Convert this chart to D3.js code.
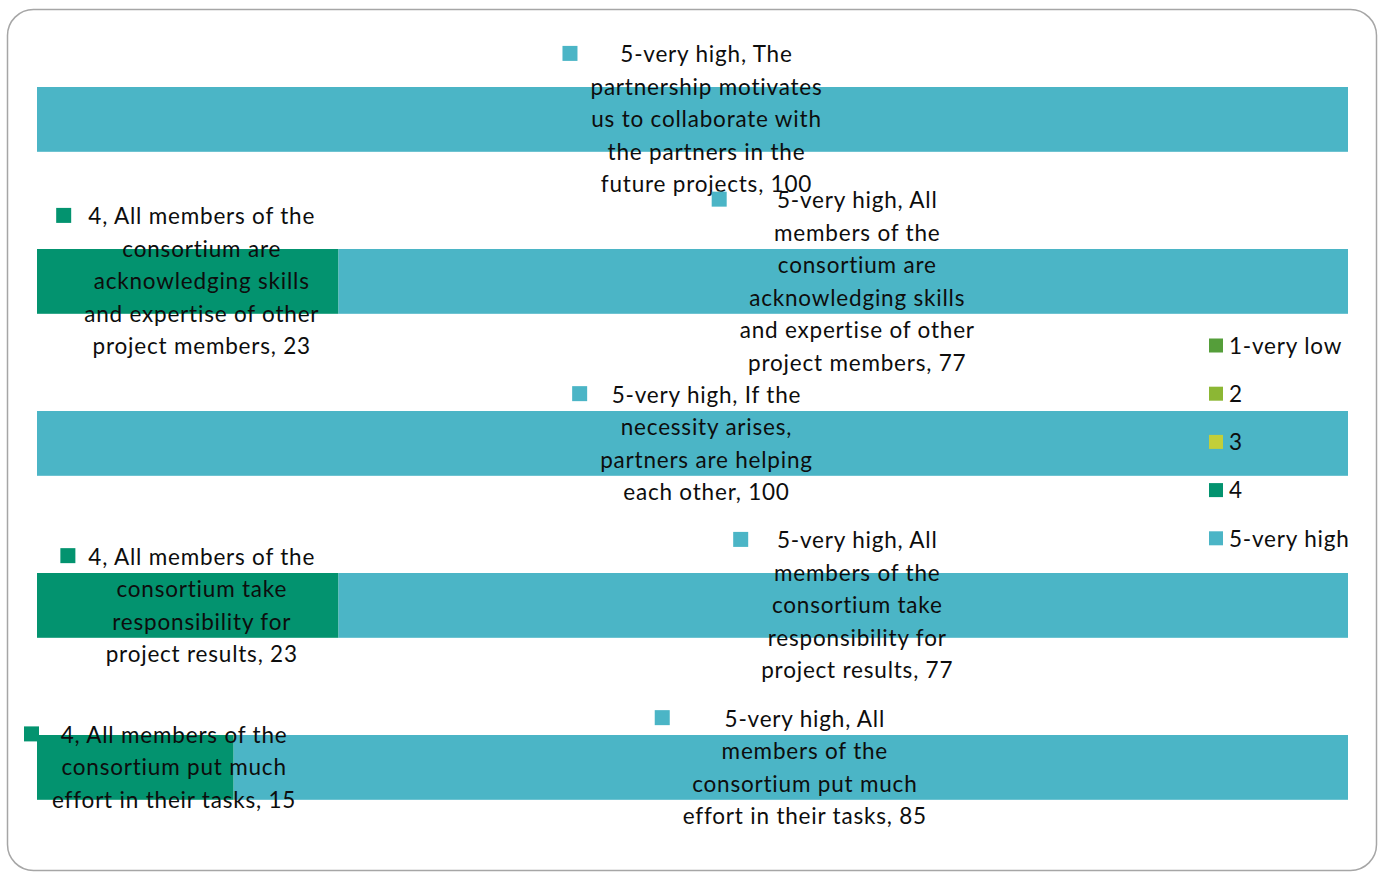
<!DOCTYPE html>
<html lang="en">
<head>
<meta charset="utf-8">
<title>Partnership survey</title>
<script src="https://d3js.org/d3.v7.min.js"></script>
<style>
  body { margin: 0; background: #fff; }
  text { font-family: Lato, "Open Sans", sans-serif; letter-spacing: 0.8px; }
</style>
</head>
<body>
<script>
// data
var categories = [
  "The partnership motivates us to collaborate with the partners in the future projects",
  "All members of the consortium are acknowledging skills and expertise of other project members",
  "If the necessity arises, partners are helping each other",
  "All members of the consortium take responsibility for project results",
  "All members of the consortium put much effort in their tasks"
];
var seriesNames = ["1-very low", "2", "3", "4", "5-very high"];
var seriesColors = ["#559e3a", "#8cb734", "#c2cf3a", "#03936f", "#4bb5c6"];
var values1 = [0, 0, 0, 0, 0];
var values2 = [0, 0, 0, 0, 0];
var values3 = [0, 0, 0, 0, 0];
var values4 = [0, 23, 0, 23, 15];
var values5 = [100, 77, 100, 77, 85];
var allValues = [values1, values2, values3, values4, values5];

var W = 1380, H = 872;
var svg = d3.select("body").append("svg").attr("width", W).attr("height", H);

// frame
svg.append("rect")
  .attr("x", 7.5).attr("y", 9.5)
  .attr("width", 1369).attr("height", 861)
  .attr("rx", 26).attr("ry", 26)
  .attr("fill", "#fff")
  .attr("stroke", "#a6a6a6").attr("stroke-width", 1.5);

var x = d3.scaleLinear().domain([0, 100]).range([37, 1348]);
var y = d3.scaleBand().domain(categories).range([6, 880.8])
  .paddingInner(0.6).paddingOuter(0.5);

// stack
var rows = categories.map(function(c, i) {
  var r = { cat: c };
  seriesNames.forEach(function(s, k) { r[s] = allValues[k][i]; });
  return r;
});
var stacked = d3.stack().keys(seriesNames)(rows);

var barG = svg.append("g");
stacked.forEach(function(layer, k) {
  barG.selectAll(null)
    .data(layer.filter(function(d) { return d[1] - d[0] > 0; }))
    .enter().append("rect")
    .attr("x", function(d) { return x(d[0]); })
    .attr("y", function(d) { return y(d.data.cat); })
    .attr("width", function(d) { return x(d[1]) - x(d[0]); })
    .attr("height", y.bandwidth())
    .attr("fill", seriesColors[k]);
});

// data labels (wrapped, with legend key)
var fs = 22.5, lineH = 32.5, maxW = 250, keyS = 15, keyGap = 13;
var meas = svg.append("text").attr("font-size", fs).attr("visibility", "hidden");
function tw(s) { meas.text(s); return meas.node().getComputedTextLength(); }
function wrap(s) {
  var words = s.split(" "), lines = [], cur = "";
  words.forEach(function(w) {
    var t = cur ? cur + " " + w : w;
    if (cur && tw(t) > maxW) { lines.push(cur); cur = w; } else { cur = t; }
  });
  lines.push(cur);
  return lines;
}

var labG = svg.append("g");
stacked.forEach(function(layer, k) {
  layer.forEach(function(d) {
    var v = d[1] - d[0];
    if (v <= 0) return;
    var lines = wrap(seriesNames[k] + ", " + d.data.cat + ", " + v);
    var wMax = d3.max(lines, tw);
    var boxW = keyS + keyGap + wMax;
    var cx = (x(d[0]) + x(d[1])) / 2;
    var left = Math.max(24, cx - boxW / 2);
    var tx = left + keyS + keyGap + wMax / 2;
    var cy = y(d.data.cat) + y.bandwidth() / 2;
    var y0 = cy - (lines.length - 1) / 2 * lineH;
    labG.append("rect")
      .attr("x", left).attr("y", y0 - keyS / 2 - 1)
      .attr("width", keyS).attr("height", keyS)
      .attr("fill", seriesColors[k]);
    var t = labG.append("text")
      .attr("font-size", fs).attr("fill", "#0d0d0d")
      .attr("text-anchor", "middle");
    lines.forEach(function(l, i) {
      t.append("tspan").attr("x", tx).attr("y", y0 + i * lineH)
        .attr("dy", "0.35em").text(l);
    });
  });
});
meas.remove();

// legend
var leg = svg.append("g");
seriesNames.forEach(function(s, k) {
  var ly = 346 + k * 48.2;
  leg.append("rect").attr("x", 1209).attr("y", ly - 7.5)
    .attr("width", 14).attr("height", 14).attr("fill", seriesColors[k]);
  leg.append("text").attr("x", 1229).attr("y", ly).attr("dy", "0.35em")
    .attr("font-size", fs).attr("fill", "#0d0d0d").text(s);
});
</script>
</body>
</html>
